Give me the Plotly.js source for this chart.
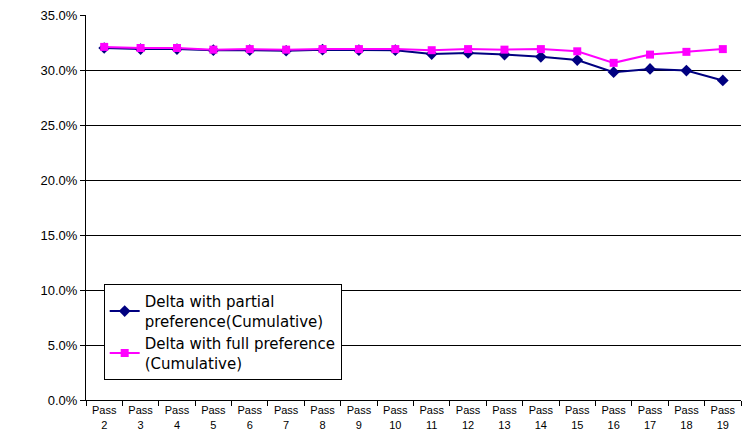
<!DOCTYPE html>
<html>
<head>
<meta charset="utf-8">
<script src="https://cdn.plot.ly/plotly-3.0.1.min.js"></script>
<style>html,body{margin:0;padding:0;background:#fff;}#chart{width:744px;height:436px;}</style>
</head>
<body>
<div id="chart"></div>
<script>
const categories = ["Pass<br>2","Pass<br>3","Pass<br>4","Pass<br>5","Pass<br>6","Pass<br>7","Pass<br>8","Pass<br>9","Pass<br>10","Pass<br>11","Pass<br>12","Pass<br>13","Pass<br>14","Pass<br>15","Pass<br>16","Pass<br>17","Pass<br>18","Pass<br>19"];
const partialValues = [32.0, 31.9, 31.9, 31.8, 31.8, 31.75, 31.85, 31.8, 31.8, 31.45, 31.55, 31.4, 31.2, 30.9, 29.8, 30.1, 29.95, 29.05];
const fullValues = [32.1, 32.0, 32.0, 31.85, 31.9, 31.85, 31.9, 31.9, 31.9, 31.8, 31.9, 31.85, 31.9, 31.7, 30.65, 31.4, 31.65, 31.9];
const yTicks = [0, 5, 10, 15, 20, 25, 30, 35];
const yTickLabels = ["0.0%", "5.0%", "10.0%", "15.0%", "20.0%", "25.0%", "30.0%", "35.0%"];

const traces = [
  {
    x: categories, y: partialValues, type: 'scatter', mode: 'lines+markers',
    name: 'Delta with partial<br>preference(Cumulative)',
    line: {color: '#000080', width: 2},
    marker: {symbol: 'diamond', size: 9, color: '#000080'}
  },
  {
    x: categories, y: fullValues, type: 'scatter', mode: 'lines+markers',
    name: 'Delta with full preference<br>(Cumulative)',
    line: {color: '#FF00FF', width: 2},
    marker: {symbol: 'square', size: 8, color: '#FF00FF'}
  }
];

const layout = {
  width: 744, height: 436,
  margin: {l: 86, r: 3, t: 15, b: 36},
  paper_bgcolor: '#fff', plot_bgcolor: '#fff',
  font: {family: 'Liberation Sans, Arial, sans-serif', color: '#000'},
  showlegend: true,
  legend: {
    x: 0.027, y: 0.301, xanchor: 'left', yanchor: 'top',
    bordercolor: '#000', borderwidth: 1, bgcolor: '#fff',
    font: {family: 'DejaVu Sans, sans-serif', size: 15, color: '#000'},
    tracegroupgap: 0
  },
  xaxis: {
    type: 'category', range: [-0.5, 17.5],
    showline: true, linecolor: '#000', linewidth: 1,
    ticks: 'outside', tickson: 'boundaries', ticklen: 5, tickcolor: '#000',
    tickfont: {size: 11},
    showgrid: false, zeroline: false, mirror: false
  },
  yaxis: {
    range: [0, 35], tickvals: yTicks, ticktext: yTickLabels,
    showline: true, linecolor: '#000', linewidth: 1,
    ticks: 'outside', ticklen: 5, tickcolor: '#000',
    tickfont: {size: 13},
    showgrid: true, gridcolor: '#000', gridwidth: 1, zeroline: false
  }
};

Plotly.newPlot('chart', traces, layout, {displayModeBar: false, staticPlot: true});
</script>
</body>
</html>
